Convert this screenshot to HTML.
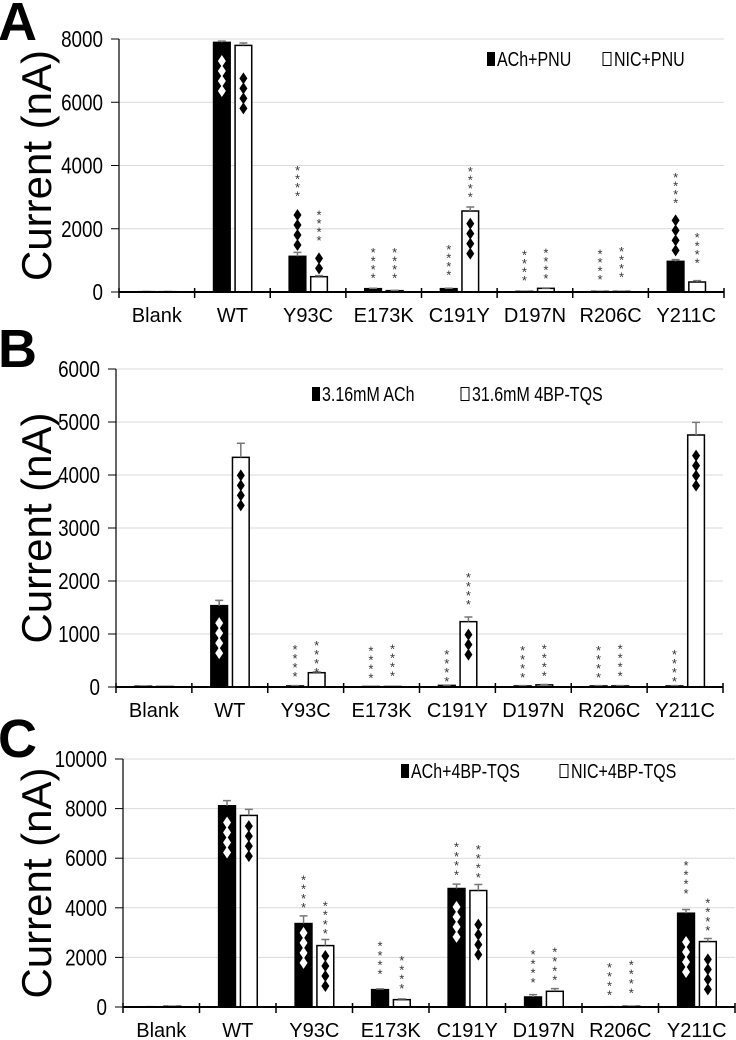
<!DOCTYPE html>
<html><head><meta charset="utf-8"><style>
body{margin:0;background:#fff}
svg{display:block;font-family:"Liberation Sans",Arial,sans-serif}
</style></head><body>
<svg id="fig" width="736" height="1040" viewBox="0 0 736 1040" xmlns="http://www.w3.org/2000/svg"></svg>
<script>
const categories=["Blank","WT","Y93C","E173K","C191Y","D197N","R206C","Y211C"];
// Panel A
const aBlack=[10,7893,1128,105,105,20,20,969];
const aBlackErr=[5,40,126,15,15,5,5,53];
const aWhite=[10,7798,485,42,2561,116,20,316];
const aWhiteErr=[5,74,31,8,126,10,5,42];
const aTicks=[0,2000,4000,6000,8000];
// Panel B
const bBlack=[15,1535,20,10,30,20,20,20];
const bBlackErr=[5,100,5,5,5,5,5,5];
const bWhite=[10,4333,270,10,1233,40,20,4755];
const bWhiteErr=[5,267,15,5,87,8,5,239];
const bTicks=[0,1000,2000,3000,4000,5000,6000];
// Panel C
const cBlack=[10,8115,3365,700,4778,404,10,3782];
const cBlackErr=[5,205,310,30,175,96,5,148];
const cWhite=[30,7725,2476,296,4697,633,30,2638];
const cWhiteErr=[5,245,244,30,243,107,5,122];
const cTicks=[0,2000,4000,6000,8000,10000];
// annotations: [category, series(0 black/1 white), type, count, bottom value, fill]
const aAnnot=[[1,0,"d",4,6354,"#fff"],[1,1,"d",4,5806,"#000"],[2,0,"d",4,1486,"#000"],[2,0,"s",4,3077],[2,1,"d",2,748,"#000"],[2,1,"s",4,1675],[3,0,"s",4,495],[3,1,"s",4,495],[4,0,"s",4,580],[4,1,"d",4,1212,"#000"],[4,1,"s",4,3045],[5,0,"s",4,411],[5,1,"s",4,474],[6,0,"s",4,443],[6,1,"s",4,516],[7,0,"d",4,1317,"#000"],[7,0,"s",4,2866],[7,1,"s",4,959]];
const bAnnot=[[1,0,"d",4,640,"#fff"],[1,1,"d",4,3428,"#000"],[2,0,"s",4,230],[2,1,"s",4,300],[3,0,"s",4,200],[3,1,"s",4,240],[4,0,"s",4,130],[4,1,"d",3,610,"#000"],[4,1,"s",4,1585],[5,0,"s",4,210],[5,1,"s",4,240],[6,0,"s",4,210],[6,1,"s",4,240],[7,0,"s",4,130],[7,1,"d",4,3800,"#000"]];
const cAnnot=[[1,0,"d",4,6230,"#fff"],[1,1,"d",4,6083,"#000"],[2,0,"d",4,1777,"#fff"],[2,0,"s",4,4065],[2,1,"d",4,848,"#000"],[2,1,"s",4,3015],[3,0,"s",4,1386],[3,1,"s",4,808],[4,0,"d",4,2826,"#fff"],[4,0,"s",4,5383],[4,1,"d",4,2113,"#000"],[4,1,"s",4,5289],[5,0,"s",4,1050],[5,1,"s",4,1144],[6,0,"s",4,538],[6,1,"s",4,633],[7,0,"d",4,1413,"#fff"],[7,0,"s",4,4643],[7,1,"d",4,713,"#000"],[7,1,"s",4,3136]];

const NS="http://www.w3.org/2000/svg";
const svg=document.getElementById("fig");
function mk(tag,attrs,parent){const e=document.createElementNS(NS,tag);for(const k in attrs)e.setAttribute(k,attrs[k]);(parent||svg).appendChild(e);return e;}
function ntext(parent,x,y,size,anchor,str,sx){
  const t=mk("text",{x:0,y:0,"font-size":size,"text-anchor":anchor,transform:`translate(${x},${y}) scale(${sx},1)`},parent);
  t.textContent=str;return t;
}

function panel(p){
  const g=mk("g",{});
  
  
  const max=p.ticks[p.ticks.length-1];
  const y=v=>p.y0-(v/max)*(p.y0-p.yTop);
  const w=(p.x1-p.x0)/categories.length;
  const cx=i=>p.x0+w*(i+0.5);
  const bx=(i,s)=>s===0?cx(i)-w*0.25:cx(i)+w*0.035;
  const bw=w*0.22;
  const L=mk("text",{x:p.letterX,y:p.letterY,"font-size":54,"font-weight":"bold"},g);L.textContent=p.letter;
  
  
  const T=mk("text",{x:0,y:0,"font-size":42,"text-anchor":"middle",transform:`translate(${p.titleX},${(p.y0+p.yTop)/2}) rotate(-90)`},g);T.textContent="Current (nA)";
  
  
  p.ticks.forEach(t=>{
    if(t>0){const gl=mk("line",{x1:p.x0,x2:p.x1,y1:y(t),y2:y(t),stroke:"#d9d9d9","stroke-width":1},g);
      
      }
    mk("line",{x1:p.x0-8,x2:p.x0,y1:y(t),y2:y(t),stroke:"#000"},g);
    const tl=ntext(g,p.x0-16,y(t)+8,23,"end",String(t),0.82);
    
    
  });
  mk("line",{x1:p.x0,x2:p.x0,y1:p.yTop,y2:p.y0,stroke:"#000","stroke-width":1.2},g);
  [[p.black,p.blackErr,"#000"],[p.white,p.whiteErr,"#fff"]].forEach((ser,s)=>{
    ser[0].forEach((v,i)=>{
      const x=bx(i,s);
      const r=mk("rect",{x:x,y:y(v),width:bw,height:p.y0-y(v),fill:ser[2],stroke:"#000","stroke-width":1.5},g);
      
      
      const e=v+ser[1][i];
      const eb=mk("path",{d:`M${x+bw/2},${y(v)}V${y(e)}M${x+bw/2-4},${y(e)}H${x+bw/2+4}`,stroke:"#777","stroke-width":1.5,fill:"none"},g);
      
      
    });
  });
  mk("line",{x1:p.x0,x2:p.x1,y1:p.y0,y2:p.y0,stroke:"#000","stroke-width":2},g);
  categories.forEach((c,i)=>{
    mk("line",{x1:p.x0+w*i,x2:p.x0+w*i,y1:p.y0-4,y2:p.y0+6,stroke:"#000","stroke-width":1.5},g);
    const cl=ntext(g,cx(i),p.y0+30,20,"middle",c,1);
    
    
  });
  mk("line",{x1:p.x1,x2:p.x1,y1:p.y0-4,y2:p.y0+6,stroke:"#000","stroke-width":1.5},g);
  p.annot.forEach(a=>{
    const xc=bx(a[0],a[1])+bw/2;
    for(let k=0;k<a[3];k++){
      const yy=y(a[4])-k*(a[2]==="d"?10:p.starGap);
      if(a[2]==="d"){
        const d=mk("polygon",{points:`${xc},${yy-6} ${xc+4},${yy} ${xc},${yy+6} ${xc-4},${yy}`,fill:a[5]},g);
        
        
      }else{
        const st=mk("text",{x:xc,y:yy+6,"font-size":13,"text-anchor":"middle",fill:"#333"},g);st.textContent="*";
        
        
      }
    }
  });
  const lg=mk("g",{},g);
  
  
  mk("rect",{x:p.leg[0],y:p.leg[2]-14,width:8,height:14,fill:"#000"},lg);
  const t1=ntext(lg,p.leg[0]+10,p.leg[2],20,"start",p.legText[0],0.8);
  
  
  mk("rect",{x:p.leg[1],y:p.leg[2]-13.5,width:8,height:13,fill:"#fff",stroke:"#000","stroke-width":1},lg);
  const t2=ntext(lg,p.leg[1]+11,p.leg[2],20,"start",p.legText[1],0.8);
  
  
}
panel({letter:"A",letterX:-2,letterY:40,titleX:51,x0:119,x1:724,y0:292,yTop:39,ticks:aTicks,black:aBlack,blackErr:aBlackErr,white:aWhite,whiteErr:aWhiteErr,annot:aAnnot,starGap:8.5,leg:[487,603,66],legText:["ACh+PNU","NIC+PNU"]});
panel({letter:"B",letterX:-2,letterY:367,titleX:51,x0:116,x1:723,y0:687,yTop:369,ticks:bTicks,black:bBlack,blackErr:bBlackErr,white:bWhite,whiteErr:bWhiteErr,annot:bAnnot,starGap:9,leg:[312,461,401],legText:["3.16mM ACh","31.6mM 4BP-TQS"]});
panel({letter:"C",letterX:-2,letterY:757,titleX:51,x0:123,x1:735,y0:1007,yTop:759,ticks:cTicks,black:cBlack,blackErr:cBlackErr,white:cWhite,whiteErr:cWhiteErr,annot:cAnnot,starGap:9.3,leg:[401,560,778],legText:["ACh+4BP-TQS","NIC+4BP-TQS"]});
</script>
</body></html>
